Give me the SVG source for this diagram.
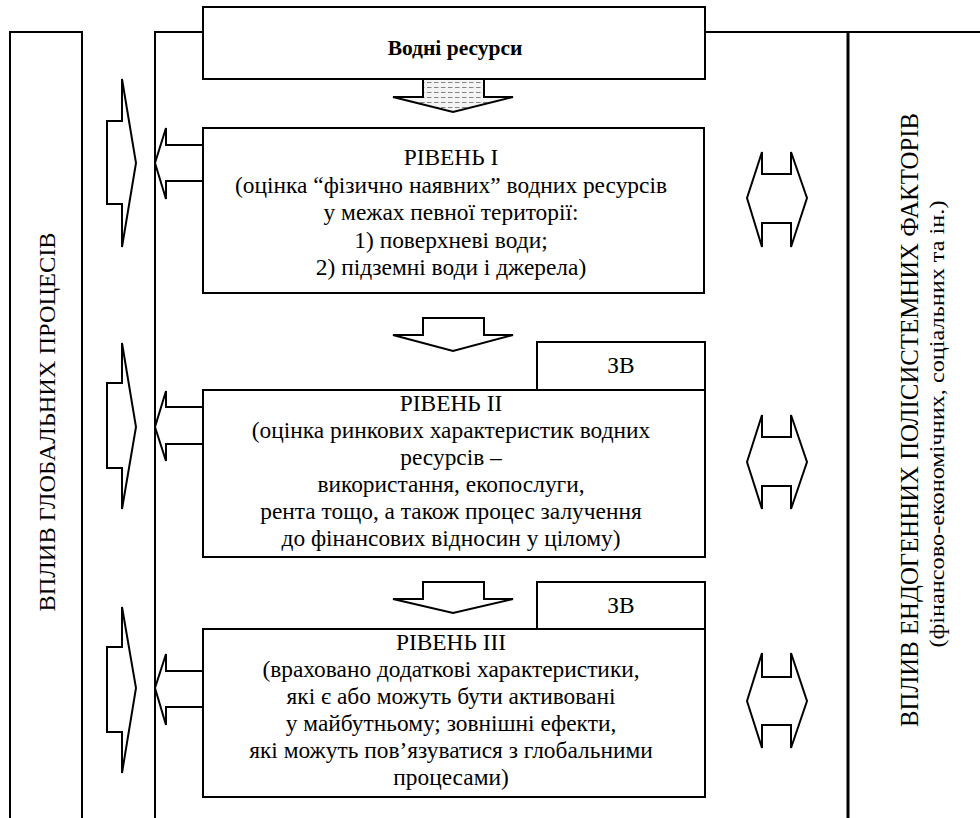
<svg xmlns="http://www.w3.org/2000/svg" width="980" height="818" viewBox="0 0 980 818" font-family="Liberation Serif, DejaVu Serif, serif">
<defs>
<pattern id="hatch" width="7" height="5" patternUnits="userSpaceOnUse">
<rect width="7" height="5" fill="#f4f4f4"/>
<line x1="0" y1="2.5" x2="4.5" y2="2.5" stroke="#777" stroke-width="0.9"/>
</pattern>
<style>
.box{fill:#fff;stroke:#000;stroke-width:2}
.frame{fill:none;stroke:#000;stroke-width:2}
.arr{fill:#fff;stroke:#000;stroke-width:2;stroke-linejoin:miter}
text{fill:#000;text-anchor:middle}
.t{font-size:23.4px}
.b{font-weight:bold;font-size:21.5px}
</style>
</defs>
<rect width="980" height="818" fill="#fff"/>

<g id="frames">
<path class="frame" d="M10,818 V32 H82 V818"/>
<path class="frame" d="M155,818 V32 H203 M705,32 H980"/>
<line x1="848" y1="32" x2="848" y2="818" stroke="#000" stroke-width="3"/>
</g>

<g id="global">
<text font-family="Liberation Serif" font-size="24" textLength="379" lengthAdjust="spacingAndGlyphs" transform="translate(55,422) rotate(-90)">ВПЛИВ ГЛОБАЛЬНИХ ПРОЦЕСІВ</text>
</g>

<g id="endogenous">
<text font-family="Liberation Serif" font-size="25" textLength="614" lengthAdjust="spacingAndGlyphs" transform="translate(918,420) rotate(-90)">ВПЛИВ ЕНДОГЕННИХ ПОЛІСИСТЕМНИХ ФАКТОРІВ</text>
<text font-family="Liberation Serif" font-size="21" textLength="447" lengthAdjust="spacingAndGlyphs" transform="translate(944,424) rotate(-90)">(фінансово-економічних, соціальних та ін.)</text>
</g>

<g id="resources">
<rect class="box" x="203" y="7" width="502" height="72"/>
<text class="b" x="455" y="55">Водні ресурси</text>
</g>

<g id="level1">
<rect class="box" x="203" y="128" width="501" height="165"/>
<text class="t" x="451" y="165">РІВЕНЬ І</text>
<text class="t" x="451" y="193">(оцінка “фізично наявних” водних ресурсів</text>
<text class="t" x="451" y="220">у межах певної території:</text>
<text class="t" x="451" y="248">1) поверхневі води;</text>
<text class="t" x="451" y="275">2) підземні води і джерела)</text>
</g>

<g id="zv1">
<rect class="box" x="537" y="342" width="168" height="48"/>
<text class="t" x="621" y="373">ЗВ</text>
</g>

<g id="level2">
<rect class="box" x="203" y="390" width="502" height="167"/>
<text class="t" x="451" y="411">РІВЕНЬ ІІ</text>
<text class="t" x="451" y="438">(оцінка ринкових характеристик водних</text>
<text class="t" x="451" y="465">ресурсів –</text>
<text class="t" x="451" y="492">використання, екопослуги,</text>
<text class="t" x="451" y="519">рента тощо, а також процес залучення</text>
<text class="t" x="451" y="546">до фінансових відносин у цілому)</text>
</g>

<g id="zv2">
<rect class="box" x="537" y="582" width="168" height="47"/>
<text class="t" x="621" y="613">ЗВ</text>
</g>

<g id="level3">
<rect class="box" x="203" y="629" width="502" height="168"/>
<text class="t" x="451" y="650">РІВЕНЬ ІІІ</text>
<text class="t" x="451" y="677">(враховано додаткові характеристики,</text>
<text class="t" x="451" y="704">які є або можуть бути активовані</text>
<text class="t" x="451" y="731">у майбутньому; зовнішні ефекти,</text>
<text class="t" x="451" y="758">які можуть пов’язуватися з глобальними</text>
<text class="t" x="451" y="785">процесами)</text>
</g>

<g id="connectors">
<polygon points="423,79 423,97 393,97 453,112 513,97 484,97 484,79" fill="url(#hatch)" stroke="#000" stroke-width="2"/>
<polygon class="arr" points="423,318 484,318 484,335 513,335 453,351 393,335 423,335"/>
<polygon class="arr" points="423,582 484,582 484,599 513,599 453,613 393,599 423,599"/>

<polygon class="arr" points="107,121 122,121 122,79 136,163 122,247 122,204 107,204"/>
<polygon class="arr" points="107,383 122,383 122,343 136,427 122,509 122,468 107,468"/>
<polygon class="arr" points="107,647 122,647 122,607 136,688 122,773 122,732 107,732"/>

<polygon class="arr" points="203,145 166,145 166,128 155,163 166,199 166,181 203,181"/>
<polygon class="arr" points="203,407 166,407 166,391 155,427 166,461 166,444 203,444"/>
<polygon class="arr" points="203,671 166,671 166,654 155,688 166,725 166,707 203,707"/>

<polygon class="arr" points="747,198 762,152 762,174 791,174 791,152 807,198 791,247 791,223 762,223 762,247"/>
<polygon class="arr" points="747,462 762,415 762,437 791,437 791,415 807,462 791,509 791,486 762,486 762,509"/>
<polygon class="arr" points="747,701 762,653 762,677 791,677 791,653 807,701 791,748 791,725 762,725 762,748"/>
</g>
</svg>
